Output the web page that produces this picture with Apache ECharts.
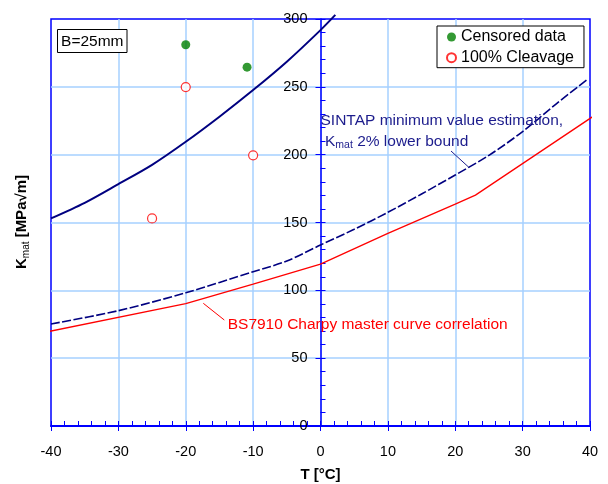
<!DOCTYPE html>
<html>
<head>
<meta charset="utf-8">
<script src="https://cdn.jsdelivr.net/npm/echarts@6/dist/echarts.min.js"></script>
<style>
html,body{margin:0;padding:0;background:#fff;}
#chart{width:608px;height:484px;}
</style>
</head>
<body>
<div id="chart"></div>
<script>
// ---- data ----
const upperT = [-40, -35, -30, -25, -20, -15, -10, -5, 0, 2.2];
const upperK = [153, 164.5, 178.3, 192.5, 209.5, 228, 247.6, 268.5, 291.8, 303];

const sintapT = [-40, -30, -20, -10, -5, 0, 5, 10, 15, 20, 25, 30, 35, 39.5];
const sintapK = [75.2, 85, 98.2, 113.7, 121.6, 133.4, 145, 157.5, 171, 185, 199.5, 217, 237.5, 255];

const bsT = [-40.7, -20, -10, 0, 10, 20, 23, 40.7];
const bsK = [69.3, 90.2, 104.5, 119.3, 142, 163.6, 170.2, 229];

const censoredT = [-20, -10.9];
const censoredK = [281, 264.5];

const cleavageT = [-20, -10, -25];
const cleavageK = [249.8, 199.5, 153];

const xTicks = {min: -40, max: 40, step: 10};
const yTicks = {min: 0, max: 300, step: 50};

const seriesNames = ['Censored data', '100% Cleavage'];

// ---- build ----
const zip = (a, b) => a.map((v, i) => [v, b[i]]);
const FONT = "'Liberation Sans', Arial, sans-serif";
const BLUE = '#0000ff';
const GRIDC = '#a6d0ff';
const NAVY = '#000080';

const chart = echarts.init(document.getElementById('chart'), null, {renderer: 'canvas'});

const option = {
  backgroundColor: '#ffffff',
  animation: false,
  textStyle: {fontFamily: FONT},
  grid: {
    left: 51, right: 18, top: 19, bottom: 58,
    outerBoundsMode: 'none', containLabel: false,
    show: true, borderColor: BLUE, borderWidth: 1.5, backgroundColor: 'transparent'
  },
  legend: {
    data: seriesNames,
    orient: 'vertical',
    left: 437, top: 26,
    padding: [3, 10, 2, 9],
    itemGap: 4.7,
    itemWidth: 9, itemHeight: 9,
    backgroundColor: '#fff',
    borderColor: '#000', borderWidth: 1, borderRadius: 0,
    textStyle: {fontFamily: FONT, fontSize: 16, color: '#000', lineHeight: 16},
    selectedMode: false
  },
  xAxis: [{
    type: 'value', min: xTicks.min, max: xTicks.max, interval: xTicks.step,
    position: 'bottom',
    axisLine: {onZero: false, lineStyle: {color: BLUE, width: 2}},
    axisTick: {show: true, inside: false, length: 5, lineStyle: {color: BLUE, width: 1}},
    axisLabel: {fontFamily: FONT, fontSize: 14.5, color: '#000', margin: 18},
    splitLine: {show: true, showMinLine: false, showMaxLine: false, lineStyle: {color: GRIDC, width: 1.5}},
    name: 'T [°C]', nameLocation: 'middle', nameGap: 41,
    nameTextStyle: {fontFamily: FONT, fontSize: 15, fontWeight: 'bold', color: '#000'}
  }, {
    type: 'value', min: xTicks.min, max: xTicks.max, interval: xTicks.step,
    position: 'bottom',
    axisLine: {show: false, onZero: false},
    axisTick: {show: true, inside: true, length: 5, lineStyle: {color: BLUE, width: 1}},
    minorTick: {show: true, splitNumber: 5, length: 5, lineStyle: {color: BLUE, width: 1}},
    axisLabel: {show: false},
    splitLine: {show: false}
  }],
  yAxis: [{
    type: 'value', min: yTicks.min, max: yTicks.max, interval: yTicks.step,
    position: 'left', offset: -269.5,
    axisLine: {show: true, onZero: false, lineStyle: {color: BLUE, width: 1.5}},
    axisTick: {show: true, inside: false, length: 5, lineStyle: {color: BLUE, width: 1}},
    axisLabel: {fontFamily: FONT, fontSize: 14.5, color: '#000', margin: 13},
    splitLine: {show: true, showMinLine: false, showMaxLine: false, lineStyle: {color: GRIDC, width: 1.5}}
  }, {
    type: 'value', min: yTicks.min, max: yTicks.max, interval: yTicks.step,
    position: 'left', offset: -269.5,
    axisLine: {show: false, onZero: false},
    axisTick: {show: true, inside: true, length: 5, lineStyle: {color: BLUE, width: 1}},
    minorTick: {show: true, splitNumber: 5, length: 5, lineStyle: {color: BLUE, width: 1}},
    axisLabel: {show: false},
    splitLine: {show: false}
  }],
  series: [
    {
      name: 'Kmat upper', type: 'line', data: zip(upperT, upperK),
      xAxisIndex: 0, yAxisIndex: 0,
      symbol: 'none', smooth: 0.3, clip: false, z: 3,
      lineStyle: {color: NAVY, width: 2}
    },
    {
      name: 'SINTAP', type: 'line', data: zip(sintapT, sintapK),
      xAxisIndex: 0, yAxisIndex: 0,
      symbol: 'none', smooth: 0.3, clip: false, z: 3,
      lineStyle: {color: NAVY, width: 1.6, type: [9, 2.5]}
    },
    {
      name: 'BS7910', type: 'line', data: zip(bsT, bsK),
      xAxisIndex: 0, yAxisIndex: 0,
      symbol: 'none', smooth: false, clip: false, z: 3,
      lineStyle: {color: '#ff0000', width: 1.3}
    },
    {
      name: seriesNames[0], type: 'scatter', data: zip(censoredT, censoredK),
      xAxisIndex: 0, yAxisIndex: 0,
      symbol: 'circle', symbolSize: 9, z: 4,
      itemStyle: {color: '#008000', borderWidth: 0}
    },
    {
      name: seriesNames[1], type: 'scatter', data: zip(cleavageT, cleavageK),
      xAxisIndex: 0, yAxisIndex: 0,
      symbol: 'circle', symbolSize: 9, z: 4,
      itemStyle: {color: '#ffffff', borderColor: '#ff0000', borderWidth: 1.2}
    }
  ],
  graphic: [
    // y-axis title
    {
      type: 'text', x: 22, y: 222, rotation: Math.PI / 2, z: 10,
      style: {
        text: '{b|K}{s|mat}{b| [MPa√m]}',
        align: 'center', verticalAlign: 'middle',
        rich: {
          b: {fontFamily: FONT, fontSize: 15, fontWeight: 'bold', fill: '#000', lineHeight: 18},
          s: {fontFamily: FONT, fontSize: 10, fill: '#000', verticalAlign: 'bottom', lineHeight: 18, padding: [4, 0, 0, 0]}
        }
      }
    },
    // B=25mm box
    {
      type: 'rect', z: 10,
      shape: {x: 57.5, y: 29.5, width: 69.5, height: 23},
      style: {fill: '#fff', stroke: '#000', lineWidth: 1}
    },
    {
      type: 'text', x: 92.3, y: 41.5, z: 11,
      style: {text: 'B=25mm', fontFamily: FONT, fontSize: 15.5, fill: '#000', align: 'center', verticalAlign: 'middle'}
    },
    // SINTAP annotation
    {
      type: 'text', x: 320.5, y: 120.5, z: 10,
      style: {text: 'SINTAP minimum value estimation,', fontFamily: FONT, fontSize: 15.5, fill: '#1c1c8c', align: 'left', verticalAlign: 'middle'}
    },
    {
      type: 'text', x: 325, y: 142, z: 10,
      style: {
        text: '{k|K}{s|mat}{k| 2% lower bound}',
        align: 'left', verticalAlign: 'middle',
        rich: {
          k: {fontFamily: FONT, fontSize: 15.5, fill: '#1c1c8c', lineHeight: 18},
          s: {fontFamily: FONT, fontSize: 10.5, fill: '#1c1c8c', verticalAlign: 'bottom', lineHeight: 18, padding: [4, 0, 0, 0]}
        }
      }
    },
    {
      type: 'line', z: 10,
      shape: {x1: 451, y1: 151, x2: 468.5, y2: 167},
      style: {stroke: '#1c1c8c', lineWidth: 1}
    },
    // BS7910 annotation
    {
      type: 'text', x: 227.7, y: 325, z: 10,
      style: {text: 'BS7910 Charpy master curve correlation', fontFamily: FONT, fontSize: 15.5, fill: '#ff0000', align: 'left', verticalAlign: 'middle'}
    },
    {
      type: 'line', z: 10,
      shape: {x1: 203.3, y1: 303.3, x2: 224.3, y2: 320},
      style: {stroke: '#ff0000', lineWidth: 1}
    }
  ]
};

chart.setOption(option);
</script>
</body>
</html>
